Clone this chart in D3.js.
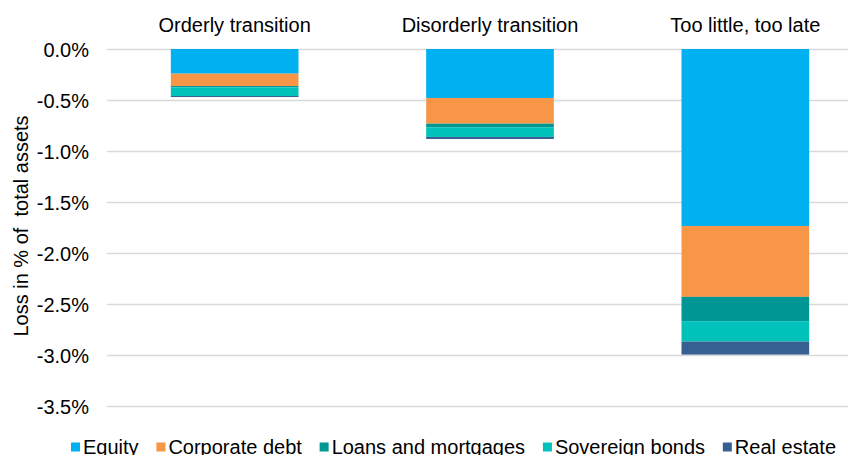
<!DOCTYPE html>
<html>
<head>
<meta charset="utf-8">
<script src="https://cdn.jsdelivr.net/npm/d3@7"></script>
<style>
  html, body { margin: 0; padding: 0; background: #fff; }
  svg { display: block; font-family: "Liberation Sans", Arial, sans-serif; }
</style>
</head>
<body>
<svg id="chart" width="848" height="455"></svg>
<script>
// ---- data ----
const categories = ["Orderly transition", "Disorderly transition", "Too little, too late"];
const seriesNames = ["Equity", "Corporate debt", "Loans and mortgages", "Sovereign bonds", "Real estate"];
const equity = [-0.242, -0.48, -1.735];
const corporateDebt = [-0.121, -0.252, -0.695];
const loansMortgages = [-0.013, -0.035, -0.238];
const sovereignBonds = [-0.085, -0.095, -0.200];
const realEstate = [-0.010, -0.020, -0.128];
const yTicks = [0, -0.5, -1.0, -1.5, -2.0, -2.5, -3.0, -3.5];
const yTitle = "Loss in % of  total assets";
const colors = ["#00B0F0", "#F79646", "#009694", "#00C2BB", "#366092"];

const seriesValues = [equity, corporateDebt, loansMortgages, sovereignBonds, realEstate];
const table = categories.map((c, i) => {
  const row = { category: c };
  seriesNames.forEach((s, j) => { row[s] = -seriesValues[j][i]; });
  return row;
});

const svg = d3.select("#chart");
const W = 848;

const y = d3.scaleLinear().domain([0, -3.5]).range([49, 406]);
const x = d3.scaleBand().domain(categories).range([107, 873]).paddingInner(0.5).paddingOuter(0.25);
const color = d3.scaleOrdinal().domain(seriesNames).range(colors);

// gridlines
svg.append("g").selectAll("line").data(yTicks).join("line")
  .attr("x1", 107).attr("x2", W)
  .attr("y1", d => Math.round(y(d)) + 0.5).attr("y2", d => Math.round(y(d)) + 0.5)
  .attr("stroke", "#d9d9d9").attr("stroke-width", 1.3);

// y axis labels
const fmt = d3.format(".1f");
const yAxis = d3.axisLeft(y).tickValues(yTicks)
  .tickFormat(d => fmt(d).replace("\u2212", "-") + "%").tickSize(0).tickPadding(0);
const ga = svg.append("g").attr("transform", "translate(89,0)").call(yAxis);
ga.select(".domain").remove();
ga.selectAll("text").attr("font-size", 20).attr("fill", "#000")
  .attr("font-family", "'Liberation Sans', Arial, sans-serif").attr("dy", "0.36em");

// stacked bars
const stack = d3.stack().keys(seriesNames);
const stacked = stack(table);
svg.append("g").selectAll("g").data(stacked).join("g")
  .attr("fill", d => color(d.key))
  .selectAll("rect").data(d => d).join("rect")
  .attr("x", d => x(d.data.category))
  .attr("width", x.bandwidth())
  .attr("y", d => y(-d[0]))
  .attr("height", d => y(-d[1]) - y(-d[0]));

// category labels at top
svg.append("g").selectAll("text").data(categories).join("text")
  .attr("x", d => x(d) + x.bandwidth() / 2)
  .attr("y", 32)
  .attr("text-anchor", "middle")
  .attr("font-size", 20)
  .attr("fill", "#000")
  .text(d => d);

// y title
svg.append("text")
  .attr("transform", "translate(28,226) rotate(-90)")
  .attr("text-anchor", "middle")
  .attr("font-size", 20)
  .attr("fill", "#000")
  .style("white-space", "pre")
  .attr("xml:space", "preserve")
  .text(yTitle);

// legend: spread items between x=71 and x=836
const legend = svg.append("g");
const items = seriesNames.map((s, i) => {
  const g = legend.append("g");
  const r = g.append("rect").attr("y", 442.5).attr("width", 9).attr("height", 9).attr("fill", colors[i]);
  const t = g.append("text").attr("y", 454).attr("font-size", 20).attr("fill", "#000").text(s);
  return { r, t, w: t.node().getComputedTextLength() };
});
const startX = 71, endX = 836, sq = 12;
const totalW = d3.sum(items, d => d.w) + sq * items.length;
const gap = (endX - startX - totalW) / (items.length - 1);
let lx = startX;
items.forEach(it => {
  it.r.attr("x", lx);
  it.t.attr("x", lx + sq);
  lx += sq + it.w + gap;
});
</script>
</body>
</html>
